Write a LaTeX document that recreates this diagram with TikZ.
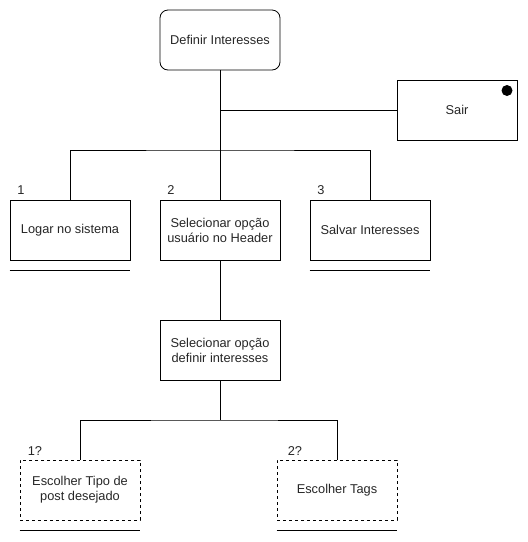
\documentclass[tikz,border=0pt]{standalone}
\usepackage{fontspec}
\setmainfont{Liberation Sans}
\begin{document}
\begin{tikzpicture}[x=1pt,y=-1pt,
  line width=0.8pt,
  every node/.style={font=\fontsize{12.8}{15}\selectfont, text=black!85},
  box/.style={draw, minimum width=120pt, minimum height=60pt, align=center, inner sep=2pt},
  rbox/.style={box, rounded corners=8pt},
  dbox/.style={box, dash pattern=on 3pt off 3pt},
  num/.style={inner sep=0pt}]
\useasboundingbox (0,0) rectangle (528,542);

\node[rbox] (def) at (220,40) {Definir Interesses};
\node[box] (sair) at (457,110) {Sair};
\fill (507,90.5) circle (5.5);

\node[box] (logar) at (70,230) {Logar no sistema};
\node[box] (usr) at (220,230) {Selecionar opção\\usuário no Header};
\node[box] (salvar) at (370,230) {Salvar Interesses};

\node[box] (defint) at (220,350) {Selecionar opção\\definir interesses};

\node[dbox] (tipo) at (80,490) {Escolher Tipo de\\post desejado};
\node[dbox] (tags) at (337,490) {Escolher Tags};

\node[num] (n1) at (21,190) {1};
\node[num] (n2) at (171,190) {2};
\node[num] (n3) at (321,190) {3};
\node[num] (n4) at (35,451) {1?};
\node[num] (n5) at (295,451) {2?};

\coordinate (bus) at (220,150);
\coordinate (bus2) at (220,420);

\draw (def.south) -- (bus);
\draw (sair.west) -- (sair.west -| def.south);
\draw (logar.north) |- (bus) -| (salvar.north);
\draw (bus) -- (usr.north);
\draw (usr.south) -- (defint.north);
\draw (defint.south) -- (bus2);
\draw (tipo.north) |- (bus2) -| (tags.north);

\draw (logar.south west) ++(0,10) -- ++(120,0);
\draw (salvar.south west) ++(0,10) -- ++(120,0);
\draw (tipo.south west) ++(0,10) -- ++(120,0);
\draw (tags.south west) ++(0,10) -- ++(120,0);
\end{tikzpicture}
\end{document}
